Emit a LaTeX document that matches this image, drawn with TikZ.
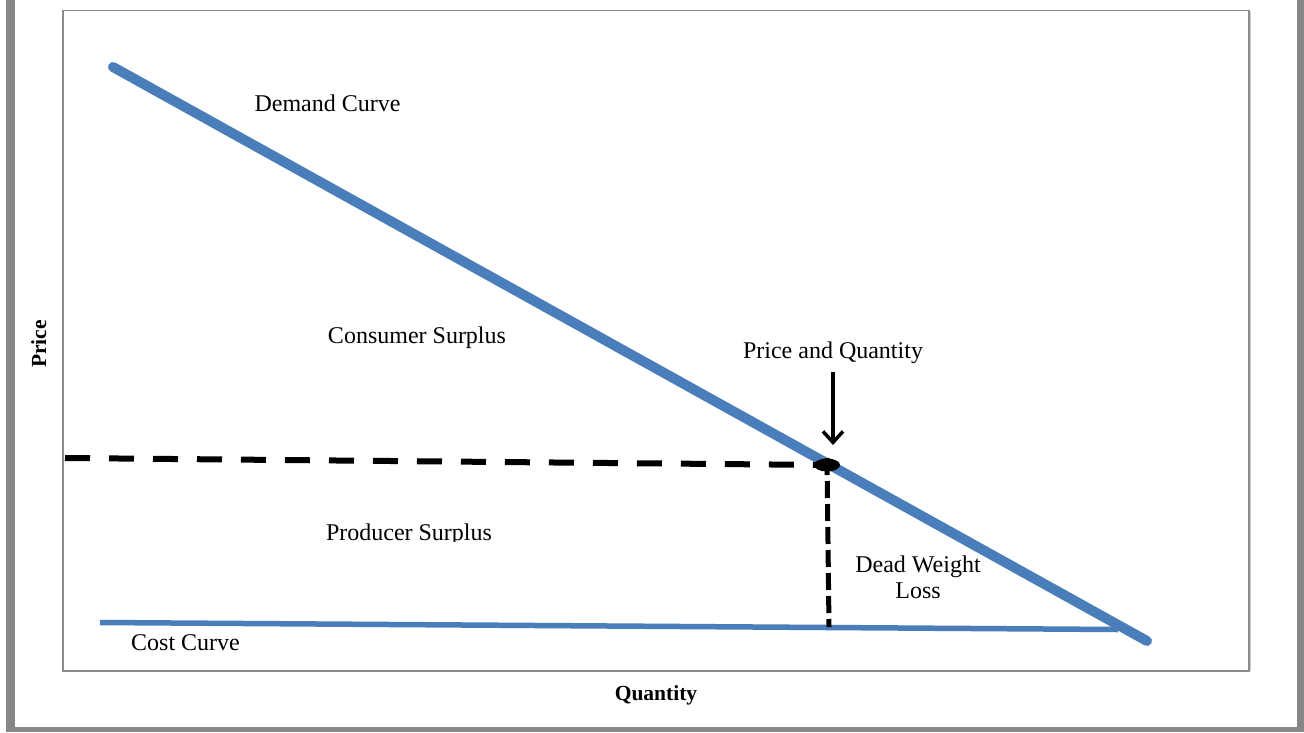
\documentclass[tikz,border=0pt]{standalone}
\usepackage{fontspec}
\setmainfont{Liberation Serif}
\usetikzlibrary{arrows.meta,shapes.geometric}
\definecolor{curveblue}{RGB}{74,126,187}
\definecolor{framegrey}{RGB}{135,135,135}
\definecolor{axisgrey}{RGB}{140,140,140}
\begin{document}
\begin{tikzpicture}[x=1pt,y=-1pt,
  curve/.style={draw=curveblue,line cap=round},
  label/.style={font=\fontsize{24}{26}\selectfont,inner sep=0pt,anchor=base},
  axislabel/.style={font=\fontsize{21.5}{24}\selectfont\bfseries,inner sep=0pt,anchor=base},
  guide/.style={draw=black,line width=6pt,dash pattern=on 25pt off 19pt},
  guidev/.style={draw=black,line width=5pt,dash pattern=on 17pt off 6pt}]
\useasboundingbox (0,0) rectangle (1304,732);
\fill[white] (0,0) rectangle (1304,732);
% page frame
\fill[framegrey] (6,0) rectangle (15,732);
\fill[framegrey] (1297,0) rectangle (1304,732);
\fill[framegrey] (6,727) rectangle (1304,732);
% plot area
\draw[axisgrey,line width=1.5pt] (63,10.5) rectangle (1249,671);
\draw[black!20,line width=1pt] (1250.5,11.5) -- (1250.5,671);

% key points
\coordinate (dtop) at (113,67);
\coordinate (dend) at (1147,641);
\coordinate (cstart) at (100,622.5);
\coordinate (cend) at (1118,629.5);
\coordinate (pleft) at (65,458);
\coordinate (eq) at (827,465);
\coordinate (qfoot) at (829,627);
\coordinate (arrtop) at (833,372);
\coordinate (arrtip) at (833,445);

% curves
\draw[curve,line width=5.5pt,line cap=butt] (cstart) -- (cend);
\draw[curve,line width=10pt] (dtop) -- (dend);

% equilibrium guides
\draw[guide] (pleft) -- (eq);
\draw[guidev] ([yshift=7pt]eq) -- (qfoot);
\node[ellipse,fill=black,minimum width=26pt,minimum height=13pt,inner sep=0pt] (dot) at (eq) {};
\draw[line width=3.5pt,-{Straight Barb[length=11pt,width=20pt]}] (arrtop) -- (arrtip);

% labels
\node[label] (demand) at (327.5,111) {Demand Curve};
\node[label] (consumer) at (417,343) {Consumer Surplus};
\node[label] (pq) at (833,358) {Price and Quantity};
\begin{scope}
  \clip (63,500) rectangle (600,541);
  \node[label] (producer) at (409,540) {Producer Surplus};
\end{scope}
\node[label] (dwl1) at (918,572) {Dead Weight};
\node[label] (dwl2) at (918,598) {Loss};
\node[label] (cost) at (185.5,650) {Cost Curve};
\node[axislabel] (qty) at (656,700) {Quantity};
\node[axislabel,rotate=90] (price) at (46,344) {Price};
\end{tikzpicture}
\end{document}
